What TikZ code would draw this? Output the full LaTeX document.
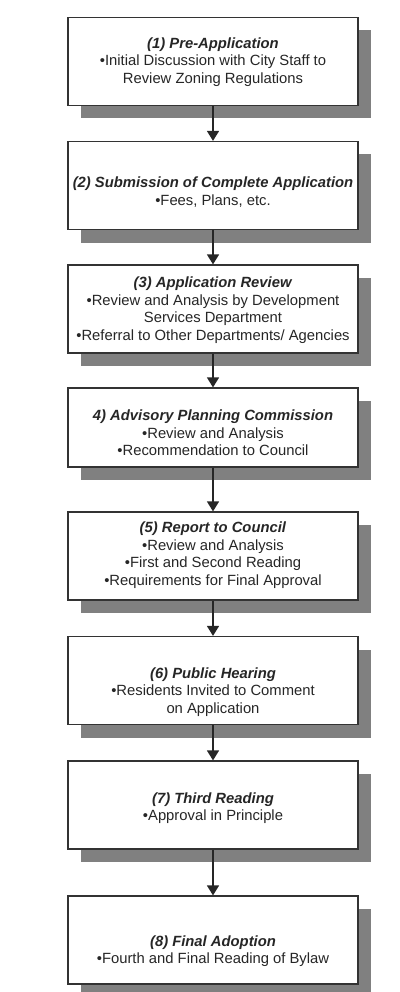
\documentclass[tikz,border=0pt]{standalone}
\usepackage{fontspec}
\setmainfont{Liberation Sans}
\usetikzlibrary{arrows.meta, shadows}

\begin{document}
\begin{tikzpicture}[x=1pt, y=-1pt,
	stagebox/.style={draw=black!80, line width=1.2pt, fill=white,
		minimum width=290pt, minimum height=88pt, inner sep=0pt,
		drop shadow={shadow xshift=13pt, shadow yshift=-13pt, fill=black!50, opacity=1}},
	stagetext/.style={align=center, inner sep=0pt, text=black!85,
		font=\fontsize{14.8}{17.5}\selectfont},
	flow/.style={line width=1.4pt, draw=black!85,
		-{Triangle[width=12pt, length=10pt]}}]

% fix the page size
	\useasboundingbox (0,0) rectangle (399, 992);

% draw boxes
	\node[stagebox] (b1) at (213, 61.5) {};
	\node[stagebox] (b2) at (213, 185.5) {};
	\node[stagebox] (b3) at (213, 309) {};
	\node[stagebox, minimum height=79pt] (b4) at (213, 427.5) {};
	\node[stagebox] (b5) at (213, 556) {};
	\node[stagebox] (b6) at (213, 680.5) {};
	\node[stagebox] (b7) at (213, 805) {};
	\node[stagebox] (b8) at (213, 940) {};

% box texts
	\node[stagetext] (t1) at (213, 62)
		{\textbf{\textit{(1) Pre-Application}}\\
		\textbullet Initial Discussion with City Staff to\\Review Zoning Regulations};
	\node[stagetext] (t2) at (213, 192)
		{\textbf{\textit{(2) Submission of Complete Application}}\\
		\textbullet Fees, Plans, etc.};
	\node[stagetext] (t3) at (213, 310)
		{\textbf{\textit{(3) Application Review}}\\
		\textbullet Review and Analysis by Development\\Services Department\\
		\textbullet Referral to Other Departments/ Agencies};
	\node[stagetext] (t4) at (213, 433)
		{\textbf{\textit{4) Advisory Planning Commission}}\\
		\textbullet Review and Analysis\\\textbullet Recommendation to Council};
	\node[stagetext] (t5) at (213, 555)
		{\textbf{\textit{(5) Report to Council}}\\
		\textbullet Review and Analysis\\\textbullet First and Second Reading\\
		\textbullet Requirements for Final Approval};
	\node[stagetext] (t6) at (213, 692)
		{\textbf{\textit{(6) Public Hearing}}\\
		\textbullet Residents Invited to Comment\\on Application};
	\node[stagetext] (t7) at (213, 808)
		{\textbf{\textit{(7) Third Reading}}\\
		\textbullet Approval in Principle};
	\node[stagetext] (t8) at (213, 951)
		{\textbf{\textit{(8) Final Adoption}}\\
		\textbullet Fourth and Final Reading of Bylaw};

% arrows between boxes
	\foreach \a/\b in {b1/b2, b2/b3, b3/b4, b4/b5, b5/b6, b6/b7, b7/b8}
		\draw[flow] (\a.south) -- (\b.north);

\end{tikzpicture}
\end{document}
